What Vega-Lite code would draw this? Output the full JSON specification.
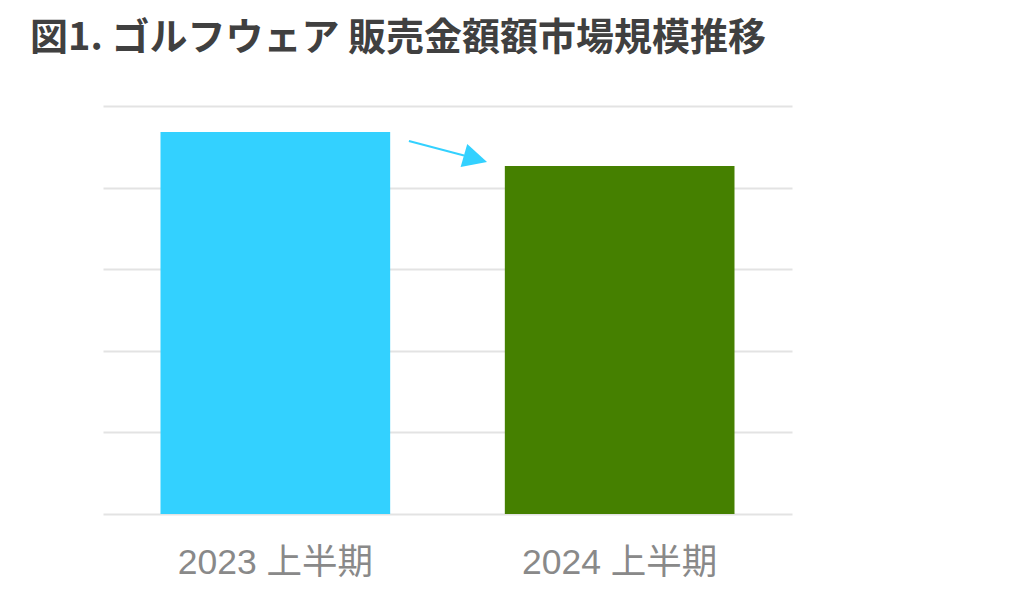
{
  "$schema": "https://vega.github.io/schema/vega-lite/v6.json",
  "autosize": {"type": "none"},
  "width": 689,
  "height": 408,
  "padding": {"left": 103, "top": 106, "right": 231, "bottom": 96},
  "background": "white",
  "title": {
    "text": "図1. ゴルフウェア  販売金額額市場規模推移",
    "anchor": "start",
    "dx": -73,
    "offset": 48,
    "font": "Noto Sans CJK JP",
    "fontSize": 38,
    "fontWeight": "bold",
    "color": "#404040"
  },
  "config": {
    "view": {"stroke": null},
    "font": "Liberation Sans"
  },
  "layer": [
    {
      "data": {
        "values": [
          {"period": "2023 上半期", "value": 4.68},
          {"period": "2024 上半期", "value": 4.265}
        ]
      },
      "mark": {"type": "bar"},
      "encoding": {
        "x": {
          "field": "period",
          "type": "nominal",
          "sort": null,
          "scale": {"paddingInner": 0.333, "paddingOuter": 0.167},
          "axis": {
            "title": null,
            "domain": false,
            "ticks": false,
            "labelAngle": 0,
            "labelFontSize": 35.5,
            "labelColor": "#898989",
            "labelFont": "Liberation Sans, Noto Sans CJK JP",
            "labelPadding": 31,
            "labelLimit": 0
          }
        },
        "y": {
          "field": "value",
          "type": "quantitative",
          "scale": {"domain": [0, 5], "nice": false},
          "axis": {
            "title": null,
            "labels": false,
            "ticks": false,
            "domain": false,
            "values": [0, 1, 2, 3, 4, 5],
            "gridColor": "#e3e3e3",
            "gridWidth": 2
          }
        },
        "color": {
          "field": "period",
          "type": "nominal",
          "scale": {"range": ["#33D1FF", "#458000"]},
          "legend": null
        }
      }
    },
    {
      "data": {
        "values": [
          {"x": 0.444, "y": 4.571, "x2": 0.524, "y2": 4.393}
        ]
      },
      "mark": {"type": "rule", "color": "#33D1FF", "strokeWidth": 2},
      "encoding": {
        "x": {"field": "x", "type": "quantitative", "scale": {"domain": [0, 1], "nice": false}, "axis": null},
        "x2": {"field": "x2"},
        "y": {"field": "y", "type": "quantitative", "axis": null},
        "y2": {"field": "y2"}
      }
    },
    {
      "data": {
        "values": [
          {"x": 0.5406, "y": 4.353}
        ]
      },
      "mark": {
        "type": "point",
        "shape": "M-1,-1L1,0L-1,1Z",
        "filled": true,
        "color": "#33D1FF",
        "size": 576,
        "angle": 16,
        "opacity": 1
      },
      "encoding": {
        "x": {"field": "x", "type": "quantitative", "scale": {"domain": [0, 1], "nice": false}, "axis": null},
        "y": {"field": "y", "type": "quantitative", "axis": null}
      }
    }
  ],
  "resolve": {"scale": {"x": "independent"}, "axis": {"x": "independent", "y": "independent"}}
}
